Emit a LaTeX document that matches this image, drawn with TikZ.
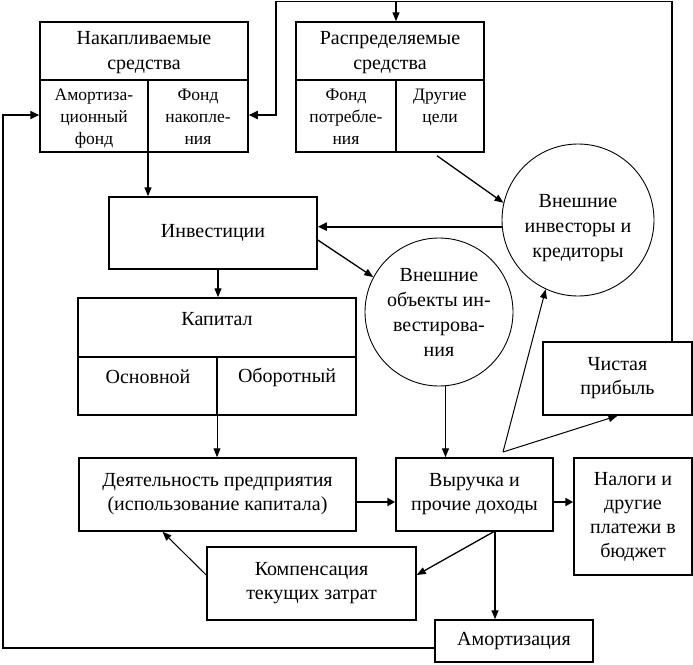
\documentclass[tikz,border=0pt]{standalone}
\usepackage{fontspec}
\setmainfont{Liberation Serif}
\usetikzlibrary{arrows.meta,calc}
\begin{document}
\begin{tikzpicture}[x=1pt,y=-1pt,
  box/.style={draw,line width=1.5pt,inner sep=0pt,align=center,font=\fontsize{20}{24}\selectfont},
  circ/.style={draw,circle,line width=0.9pt,inner sep=0pt,align=center,font=\fontsize{20}{25}\selectfont},
  txt/.style={inner sep=0pt,align=center,font=\fontsize{20}{25}\selectfont},
  cell/.style={inner sep=0pt,align=center,font=\fontsize{17.5}{22}\selectfont},
  div/.style={line width=1.2pt},
  conn/.style={line width=1.3pt,-{Triangle[length=9pt,width=7pt]}},
  thin/.style={line width=1pt,-{Triangle[length=9pt,width=7pt]}},
  loop/.style={line width=1.9pt,-{Triangle[length=9pt,width=8pt]}},
  thickc/.style={line width=2.3pt,-{Triangle[length=8pt,width=8pt]}}]
\useasboundingbox (0,0) rectangle (693,664);

% Накапливаемые средства
\node[box,minimum width=208pt,minimum height=130pt] (nak) at (144,87) {};
\node[txt] (nakT) at (144,53) {Накапливаемые\\средства};
\draw[div] (40,80) -- (248,80) (148,80) -- (148,152);
\node[cell,anchor=north] (nakA) at (94,89) {Амортиза-\\ционный\\фонд};
\node[cell,anchor=north] (nakF) at (198,89) {Фонд\\накопле-\\ния};

% Распределяемые средства
\node[box,minimum width=188pt,minimum height=130pt] (rasp) at (390,87) {};
\node[txt] (raspT) at (390,53) {Распределяемые\\средства};
\draw[div] (296,80) -- (484,80) (396,80) -- (396,152);
\node[cell,anchor=north] (raspF) at (346,89) {Фонд\\потребле-\\ния};
\node[cell,anchor=north] (raspD) at (440,89) {Другие\\цели};

% Инвестиции
\node[box,minimum width=208pt,minimum height=72pt] (inv) at (213,233) {Инвестиции};

% Капитал
\node[box,minimum width=278pt,minimum height=117pt] (kap) at (217,356.5) {};
\node[txt] (kapT) at (217,319) {Капитал};
\draw[div] (78,357) -- (356,357) (217,357) -- (217,415);
\node[txt] (kapO) at (148,377) {Основной};
\node[txt] (kapB) at (287,377) {Оборотный};

% Circles
\node[circ,minimum size=152pt] (ci1) at (578,220) {};
\node[txt] (ci1T) at (578,228) {Внешние\\инвесторы и\\кредиторы};
\node[circ,minimum size=148pt] (ci2) at (439,312) {Внешние\\объекты ин-\\вестирова-\\ния};

% Чистая прибыль
\node[box,minimum width=149pt,minimum height=73pt] (chist) at (617.5,378.5) {Чистая\\прибыль};

% Деятельность, Выручка, Налоги
\node[box,minimum width=277pt,minimum height=73pt] (dey) at (217.5,494.5) {Деятельность предприятия\\(использование капитала)};
\node[box,minimum width=157pt,minimum height=73pt] (vyr) at (474.5,494.5) {Выручка и\\прочие доходы};
\node[box,minimum width=118pt,minimum height=117pt] (nal) at (633,516.5) {Налоги и\\другие\\платежи в\\бюджет};

% Компенсация, Амортизация
\node[box,minimum width=209pt,minimum height=73pt] (komp) at (311.5,583.5) {Компенсация\\текущих затрат};
\node[box,minimum width=158pt,minimum height=42pt] (amort) at (514,641) {Амортизация};

% coordinates
\coordinate (nakdiv) at (148,80);
\coordinate (kapdiv) at (217,357);
\coordinate (topR) at (672,1.5);
\coordinate (topL) at (276,1.5);
\coordinate (topM) at (396,1.5);
\coordinate (nakIn) at (276,115);
\coordinate (leftB) at (3,648);
\coordinate (leftT) at (3,115);
\coordinate (split) at (503,452);
\coordinate (vyrB) at (495,531);
\coordinate (invK) at (218,269);

% connectors
\draw[conn] (nakdiv |- nak.south) -- (nakdiv |- inv.north);
\draw[loop] (chist.north -| topR) -- (topR) -- (topL) -- (nakIn) -- (nakIn -| nak.east);
\draw[conn] (topM) -- (topM |- rasp.north);
\draw[loop] (leftB -| amort.west) -- (leftB) -- (leftT) -- (leftT -| nak.west);
\draw[conn] ($(rasp.south)+(47,3)$) -- (ci1.167);
\draw[loop] (ci1.185) -- (ci1.185 -| inv.east);
\draw[conn] ($(inv.east)+(0,7)$) -- (ci2.152);
\draw[conn] (invK |- inv.south) -- (invK |- kap.north);
\draw[thin] (kapdiv |- kap.south) -- (kapdiv |- dey.north);
\draw[conn] (ci2.-85) -- (ci2.-85 |- vyr.north);
\draw[thickc] ($(dey.east)+(0,7.5)$) -- ($(vyr.west)+(0,7.5)$);
\draw[thickc] ($(vyr.east)+(0,7.5)$) -- ($(nal.west)+(0,-14.5)$);
\draw[thin] (split) -- (ci1.-115);
\draw[thin] (split) -- (chist.south);
\draw[conn] (vyrB) -- ($(komp.east)+(0,-8.5)$);
\draw[conn] (vyrB) -- (vyrB |- amort.north);
\draw[thin] ($(komp.west)+(0,-8.5)$) -- ($(dey.south)+(-55,0)$);
\end{tikzpicture}
\end{document}
